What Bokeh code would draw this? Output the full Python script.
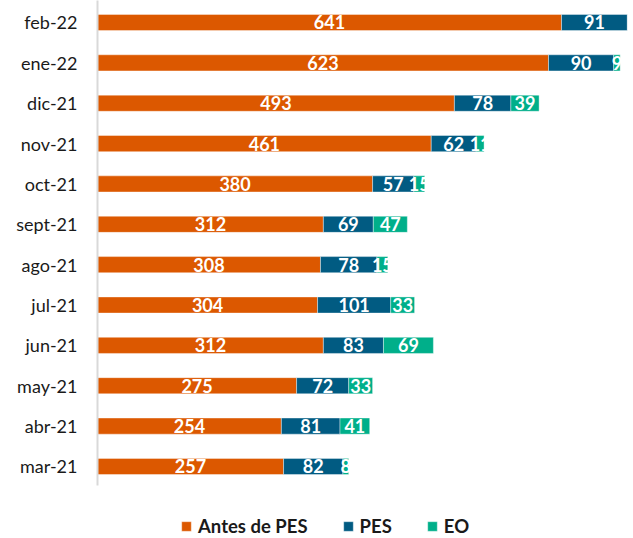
from bokeh.plotting import figure
from bokeh.models import ColumnDataSource, FixedTicker, Legend, LegendItem, Range1d
from bokeh.core.properties import value
from bokeh.embed import file_html
from bokeh.resources import INLINE

categories = ["mar-21", "abr-21", "may-21", "jun-21", "jul-21", "ago-21",
              "sept-21", "oct-21", "nov-21", "dic-21", "ene-22", "feb-22"]
antes_pes = [257, 254, 275, 312, 304, 308, 312, 380, 461, 493, 623, 641]
pes = [82, 81, 72, 83, 101, 78, 69, 57, 62, 78, 90, 91]
eo = [8, 41, 33, 69, 33, 15, 47, 15, 11, 39, 9, 0]

series_names = ["Antes de PES", "PES", "EO"]
colors = ["#DC5800", "#015B82", "#00AF8A"]
FONT = "Lato"

idx = list(range(len(categories)))

p = figure(width=633, height=538, output_backend="svg", toolbar_location=None,
           x_range=Range1d(0, 740.4), y_range=Range1d(-1.785, 11.545),
           min_border_left=97, min_border_right=0, min_border_top=0,
           min_border_bottom=0)
p.outline_line_color = None
p.grid.visible = False
p.xaxis.visible = False
p.background_fill_color = "white"
p.border_fill_color = "white"

renderers = []
left = [0] * len(idx)
for name, vals, col in zip(series_names, [antes_pes, pes, eo], colors):
    right = [l + v for l, v in zip(left, vals)]
    src = ColumnDataSource(dict(y=idx, left=left, right=right))
    r = p.hbar(y="y", left="left", right="right", height=0.4, source=src,
               fill_color=col, line_color="white", line_alpha=0.5, line_width=0.8)
    renderers.append(r)
    ly, lx, lt = [], [], []
    for i, (l, v) in enumerate(zip(left, vals)):
        if v > 0:
            ly.append(i)
            lx.append(l + v / 2)
            lt.append(str(v))
    lsrc = ColumnDataSource(dict(x=lx, y=ly, t=lt))
    p.text(x="x", y="y", text="t", source=lsrc, text_color="white",
           text_font=value(FONT), text_font_style="bold", text_font_size="18px",
           text_align="center", text_baseline="middle")
    left = right

ax = p.yaxis[0]
ax.ticker = FixedTicker(ticks=idx)
ax.bounds = (-0.472, 11.545)
ax.major_label_overrides = {i: c for i, c in zip(idx, categories)}
ax.major_tick_line_color = None
ax.minor_tick_line_color = None
ax.major_tick_out = 0
ax.major_label_standoff = 20
ax.axis_line_color = "#d9d9d9"
ax.axis_line_width = 2
ax.major_label_text_font = FONT
ax.major_label_text_font_size = "18px"
ax.major_label_text_color = "#1a1a1a"

legend = Legend(items=[LegendItem(label=n, renderers=[r]) for n, r in zip(series_names, renderers)],
                orientation="horizontal", location=(83, 1),
                label_text_font=FONT, label_text_font_style="bold",
                label_text_font_size="18.5px", label_text_color="#1a1a1a",
                glyph_width=12, glyph_height=12, spacing=34, label_standoff=6,
                border_line_color=None, background_fill_alpha=0,
                padding=0, margin=0)
p.add_layout(legend, "center")

open("out.html", "w").write(file_html(p, INLINE))
